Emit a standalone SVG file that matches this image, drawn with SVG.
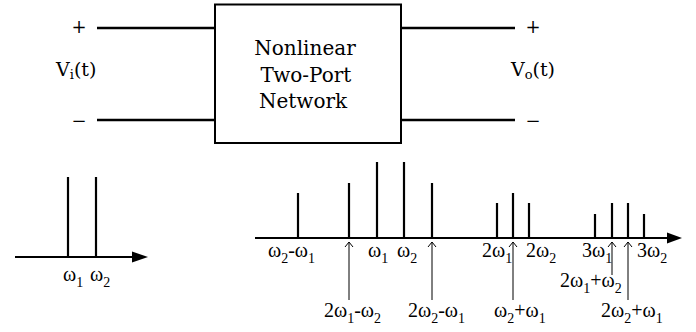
<svg xmlns="http://www.w3.org/2000/svg" width="696" height="332" viewBox="0 0 696 332">
<style>
.w{stroke:#000;stroke-width:2.5;fill:none}
.sp{stroke:#000;stroke-width:2.2}
.ax{stroke:#000;stroke-width:2}
.ar{stroke:#000;stroke-width:1;fill:none}
</style>
<defs>
<marker id="open" viewBox="0 0 10 10" refX="9" refY="5" markerWidth="10" markerHeight="10" markerUnits="userSpaceOnUse" orient="auto">
<path d="M4,1 L9,5 L4,9" stroke="#000" stroke-width="1" fill="none"/>
</marker>
</defs>
<g id="network">
<rect x="215" y="4.5" width="186" height="138.5" fill="#fff" stroke="#000" stroke-width="2"/>
<text font-family="DejaVu Serif, serif" font-size="20" text-anchor="middle" x="305" y="55">Nonlinear</text>
<text font-family="DejaVu Serif, serif" font-size="20" text-anchor="middle" x="306" y="82">Two-Port</text>
<text font-family="DejaVu Serif, serif" font-size="20" text-anchor="middle" x="303" y="108">Network</text>
</g>
<g id="input-port">
<line class="w" x1="97" y1="28" x2="215" y2="28"/>
<line class="w" x1="97" y1="120" x2="215" y2="120"/>
<text font-family="DejaVu Serif, serif" font-size="18" x="79" y="33" text-anchor="middle">+</text>
<text font-family="DejaVu Serif, serif" font-size="18" x="79" y="127" text-anchor="middle">−</text>
<text font-family="DejaVu Serif, serif" font-size="19" x="56" y="76">V<tspan font-size="13" dy="3">i</tspan><tspan dy="-3">(t)</tspan></text>
</g>
<g id="output-port">
<line class="w" x1="401" y1="28" x2="515" y2="28"/>
<line class="w" x1="401" y1="120" x2="515" y2="120"/>
<text font-family="DejaVu Serif, serif" font-size="18" x="533" y="33" text-anchor="middle">+</text>
<text font-family="DejaVu Serif, serif" font-size="18" x="533" y="127" text-anchor="middle">−</text>
<text font-family="DejaVu Serif, serif" font-size="19" x="511" y="76">V<tspan font-size="13" dy="3">o</tspan><tspan dy="-3">(t)</tspan></text>
</g>
<g id="input-spectrum">
<line class="ax" x1="15" y1="257" x2="134" y2="257"/>
<polygon points="132,251.5 148,257 132,262.5" fill="#000"/>
<line class="sp" x1="68" y1="177" x2="68" y2="257"/>
<line class="sp" x1="96" y1="177" x2="96" y2="257"/>
<text font-family="Liberation Serif" font-size="20" x="63" y="281">ω<tspan font-size="14" dy="6">1</tspan></text>
<text font-family="Liberation Serif" font-size="20" x="90" y="281">ω<tspan font-size="14" dy="6">2</tspan></text>
</g>
<g id="output-spectrum">
<line class="ax" x1="255" y1="238" x2="668" y2="238"/>
<polygon points="667,232.5 682,238 667,243.5" fill="#000"/>
<line class="sp" x1="298" y1="193" x2="298" y2="238"/>
<line class="sp" x1="349" y1="183" x2="349" y2="238"/>
<line class="sp" x1="377" y1="162" x2="377" y2="238"/>
<line class="sp" x1="404" y1="162" x2="404" y2="238"/>
<line class="sp" x1="432" y1="183" x2="432" y2="238"/>
<line class="sp" x1="497" y1="203" x2="497" y2="238"/>
<line class="sp" x1="513" y1="193" x2="513" y2="238"/>
<line class="sp" x1="529" y1="203" x2="529" y2="238"/>
<line class="sp" x1="595" y1="214" x2="595" y2="238"/>
<line class="sp" x1="612" y1="203" x2="612" y2="238"/>
<line class="sp" x1="628" y1="203" x2="628" y2="238"/>
<line class="sp" x1="644" y1="214" x2="644" y2="238"/>
<text font-family="Liberation Serif" font-size="20" x="268" y="257">ω<tspan font-size="14" dy="6">2</tspan><tspan dy="-6">-ω</tspan><tspan font-size="14" dy="6">1</tspan></text>
<text font-family="Liberation Serif" font-size="20" x="368" y="257">ω<tspan font-size="14" dy="6">1</tspan></text>
<text font-family="Liberation Serif" font-size="20" x="397" y="257">ω<tspan font-size="14" dy="6">2</tspan></text>
<text font-family="Liberation Serif" font-size="20" x="482" y="257">2ω<tspan font-size="14" dy="6">1</tspan></text>
<text font-family="Liberation Serif" font-size="20" x="526" y="257">2ω<tspan font-size="14" dy="6">2</tspan></text>
<text font-family="Liberation Serif" font-size="20" x="582" y="257">3ω<tspan font-size="14" dy="6">1</tspan></text>
<text font-family="Liberation Serif" font-size="20" x="637" y="257">3ω<tspan font-size="14" dy="6">2</tspan></text>
<text font-family="Liberation Serif" font-size="20" x="560" y="287">2ω<tspan font-size="14" dy="6">1</tspan><tspan dy="-6">+ω</tspan><tspan font-size="14" dy="6">2</tspan></text>
<text font-family="Liberation Serif" font-size="20" x="324" y="317">2ω<tspan font-size="14" dy="6">1</tspan><tspan dy="-6">-ω</tspan><tspan font-size="14" dy="6">2</tspan></text>
<text font-family="Liberation Serif" font-size="20" x="408" y="317">2ω<tspan font-size="14" dy="6">2</tspan><tspan dy="-6">-ω</tspan><tspan font-size="14" dy="6">1</tspan></text>
<text font-family="Liberation Serif" font-size="20" x="494" y="317">ω<tspan font-size="14" dy="6">2</tspan><tspan dy="-6">+ω</tspan><tspan font-size="14" dy="6">1</tspan></text>
<text font-family="Liberation Serif" font-size="20" x="601" y="317">2ω<tspan font-size="14" dy="6">2</tspan><tspan dy="-6">+ω</tspan><tspan font-size="14" dy="6">1</tspan></text>
</g>
<g id="connectors">
<line class="ar" x1="349" y1="300" x2="349" y2="242" marker-end="url(#open)"/>
<line class="ar" x1="432" y1="300" x2="432" y2="242" marker-end="url(#open)"/>
<line class="ar" x1="513" y1="300" x2="513" y2="242" marker-end="url(#open)"/>
<line class="ar" x1="612" y1="275" x2="612" y2="242" marker-end="url(#open)"/>
<line class="ar" x1="628" y1="300" x2="628" y2="242" marker-end="url(#open)"/>
</g>
</svg>
